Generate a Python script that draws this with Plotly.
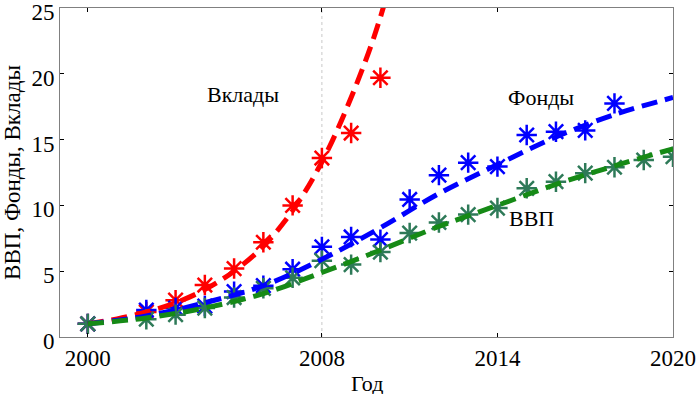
import plotly.graph_objects as go

# --- data ---
red_pt_years = [2000, 2002, 2003, 2004, 2005, 2006, 2007, 2008, 2009, 2010]
red_pt_vals = [1.0, 1.9, 2.8, 3.95, 5.2, 7.2, 10.0, 13.6, 15.5, 19.7]
red_fit_years = [2000, 2001, 2002, 2003, 2004, 2005, 2006, 2007, 2008, 2009, 2010, 2011]
red_fit_vals = [1.0, 1.38, 1.9, 2.6, 3.6, 5.0, 6.9, 9.6, 13.3, 18.2, 24.3, 33.0]

blue_pt_years = [2000, 2002, 2003, 2004, 2005, 2006, 2007, 2008, 2009, 2010,
                 2011, 2012, 2013, 2014, 2015, 2016, 2017, 2018]
blue_pt_vals = [1.0, 2.05, 2.2, 2.35, 3.45, 3.9, 5.15, 6.85, 7.6, 7.4,
                10.45, 12.3, 13.25, 12.95, 15.35, 15.6, 15.7, 17.75]
blue_fit_years = [2000, 2002, 2004, 2006, 2008, 2010, 2012, 2014, 2016, 2018, 2020]
blue_fit_vals = [1.0, 1.6, 2.6, 3.9, 5.9, 8.3, 10.9, 13.1, 15.2, 16.9, 18.2]

green_pt_years = [2000, 2002, 2003, 2004, 2005, 2006, 2007, 2008, 2009, 2010,
                  2011, 2012, 2013, 2014, 2015, 2016, 2017, 2018, 2019, 2020]
green_pt_vals = [1.0, 1.35, 1.7, 2.2, 3.0, 3.7, 4.5, 5.8, 5.5, 6.45,
                 7.9, 8.7, 9.3, 9.8, 11.3, 11.8, 12.45, 12.9, 13.45, 13.7]
green_fit_years = [2000, 2002, 2004, 2006, 2008, 2010, 2012, 2014, 2016, 2018, 2020]
green_fit_vals = [1.0, 1.45, 2.2, 3.3, 4.9, 6.6, 8.4, 10.0, 11.6, 13.0, 14.3]

x_ticks = [2000, 2008, 2014, 2020]
y_ticks = [0, 5, 10, 15, 20, 25]
grid_year = 2008

labels = [("Вклады", 2005.3, 18.4), ("Фонды", 2015.5, 18.2), ("ВВП", 2015.15, 9.0)]
x_title = "Год"
y_title = "ВВП, Фонды, Вклады"

FONT = "Liberation Serif, Times New Roman, serif"
DASH = "16px,8px"

fig = go.Figure()

series = [
    (red_fit_years, red_fit_vals, red_pt_years, red_pt_vals, "#ff0000", "#ff0000"),
    (blue_fit_years, blue_fit_vals, blue_pt_years, blue_pt_vals, "#0000ff", "#0000ff"),
    (green_fit_years, green_fit_vals, green_pt_years, green_pt_vals, "#168a16", "#2e7a58"),
]

for fx, fy, px, py, lc, mc in series:
    fig.add_trace(go.Scatter(
        x=px, y=py, mode="markers",
        marker=dict(symbol="asterisk-open", size=17, color=mc,
                    line=dict(color=mc, width=2.5)),
        showlegend=False))

for fx, fy, px, py, lc, mc in series:
    fig.add_trace(go.Scatter(
        x=fx, y=fy, mode="lines", line=dict(color=lc, width=5, dash=DASH, shape="spline"),
        showlegend=False))

fig.add_shape(type="line", xref="x", yref="paper", x0=grid_year, x1=grid_year, y0=0, y1=1,
              line=dict(color="#c8c8c8", width=1, dash="dot"), layer="below")

for txt, ax, ay in labels:
    fig.add_annotation(x=ax, y=ay, text=txt, showarrow=False,
                       font=dict(family=FONT, size=22, color="black"))

fig.add_annotation(xref="paper", yref="paper", x=0.5, y=0, yshift=-46, yanchor="middle",
                   text=x_title, showarrow=False,
                   font=dict(family=FONT, size=22, color="black"))

fig.update_layout(
    width=697, height=394,
    margin=dict(l=60, r=24, t=8, b=57),
    paper_bgcolor="white", plot_bgcolor="white",
    font=dict(family=FONT, size=22, color="black"),
    xaxis=dict(range=[1999.05, 2020], tickvals=x_ticks, ticks="inside", ticklen=4,
               tickcolor="black", showgrid=False, zeroline=False,
               showline=True, linecolor="#808080", linewidth=1, mirror="ticks",
               ticklabeloverflow="allow", automargin=False,
               tickfont=dict(family=FONT, size=23)),
    yaxis=dict(range=[0, 25], tickvals=y_ticks, ticks="inside", ticklen=4,
               tickcolor="black", showgrid=False, zeroline=False,
               showline=True, linecolor="#808080", linewidth=1, mirror="ticks",
               ticklabeloverflow="allow", automargin=False, ticklabelshift=4,
               title=dict(text=y_title, font=dict(family=FONT, size=23), standoff=6),
               tickfont=dict(family=FONT, size=23)),
)

fig.write_html("out.html", config={"displayModeBar": False},
               post_script="document.body.style.margin='0';")
